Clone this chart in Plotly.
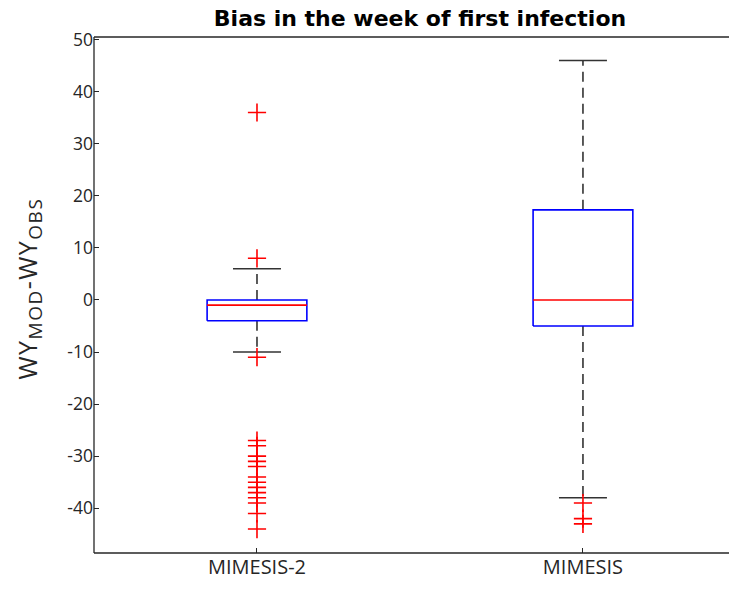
import plotly.graph_objects as go

# ---- data ----
categories = ["MIMESIS-2", "MIMESIS"]
positions = [1, 2]
q1 = [-4, -5]
median = [-1, 0]
q3 = [0, 17.3]
whisker_low = [-10, -38]
whisker_high = [6, 46]
outliers = [
    [36, 8, -11, -27, -28, -30, -31, -32, -34, -35, -36, -37, -38, -39, -41, -44],
    [-39, -42, -43],
]
y_ticks = [-40, -30, -20, -10, 0, 10, 20, 30, 40, 50]

box_half = 0.153
cap_half = 0.0736

fig = go.Figure()
dark = "#262626"
FONT = "Open Sans"
for i, c in enumerate(positions):
    fig.add_trace(go.Scatter(x=[c, c, None, c, c],
                             y=[q3[i], whisker_high[i], None, q1[i], whisker_low[i]],
                             mode="lines", line=dict(color="#333333", width=1.6, dash="10px,6px"),
                             hoverinfo="skip", showlegend=False))
    fig.add_trace(go.Scatter(x=[c - cap_half, c + cap_half, None, c - cap_half, c + cap_half],
                             y=[whisker_high[i], whisker_high[i], None, whisker_low[i], whisker_low[i]],
                             mode="lines", line=dict(color="#333333", width=1.6),
                             hoverinfo="skip", showlegend=False))
    fig.add_trace(go.Scatter(x=[c - box_half, c + box_half, c + box_half, c - box_half, c - box_half],
                             y=[q1[i], q1[i], q3[i], q3[i], q1[i]],
                             mode="lines", line=dict(color="blue", width=1.6),
                             hoverinfo="skip", showlegend=False))
    fig.add_trace(go.Scatter(x=[c - box_half, c + box_half], y=[median[i], median[i]],
                             mode="lines", line=dict(color="red", width=1.6),
                             hoverinfo="skip", showlegend=False))
    fig.add_trace(go.Scatter(x=[c] * len(outliers[i]), y=outliers[i], mode="markers",
                             marker=dict(symbol="cross-thin-open", size=13, color="red",
                                         line=dict(color="red", width=1.6)),
                             hoverinfo="skip", showlegend=False))

fig.update_layout(
    width=739, height=590,
    margin=dict(l=94, r=10, t=37, b=37),
    plot_bgcolor="white", paper_bgcolor="white",
    font=dict(family=FONT, size=18, color=dark),
    title=dict(text="<b>Bias in the week of first infection</b>", x=420 / 739, xanchor="center",
               y=1 - 18 / 590, yanchor="middle",
               font=dict(family="DejaVu Sans", size=22, color="black")),
    xaxis=dict(range=[0.5, 2.448], tickvals=positions, ticktext=categories,
               showline=False, ticks="inside", ticklen=5, tickcolor=dark,
               tickwidth=1.3, showgrid=False, zeroline=False,
               tickfont=dict(family=FONT, size=20, color=dark)),
    yaxis=dict(range=[-48.6, 50.5], tickvals=y_ticks, ticktext=[str(v) for v in y_ticks],
               showline=False, ticks="inside", ticklen=5, tickcolor=dark, tickwidth=1.3,
               showgrid=False, zeroline=False,
               tickfont=dict(family=FONT, size=17.5, color=dark)),
    shapes=[
        dict(type="line", xref="paper", yref="paper", x0=0, x1=0, y0=0, y1=1,
             line=dict(color=dark, width=1.3)),
        dict(type="line", xref="paper", yref="paper", x0=0, x1=1, y0=0, y1=0,
             line=dict(color=dark, width=1.3), layer="above"),
        dict(type="line", xref="paper", yref="paper", x0=0, x1=1, y0=1, y1=1,
             line=dict(color=dark, width=1.3), layer="above"),
    ],
    annotations=[dict(text='<span style="letter-spacing:1.5px">WY<sub><span style="font-size:19px">MOD</span></sub>-WY<sub><span style="font-size:19px">OBS</span></sub></span>',
                      xref="paper", yref="paper",
                      x=(28 - 94) / 635, y=1 - (288.5 - 37) / 516, textangle=-90, showarrow=False,
                      xanchor="center", yanchor="middle",
                      font=dict(family=FONT, size=25, color=dark))],
)

fig.write_html("out.html")
